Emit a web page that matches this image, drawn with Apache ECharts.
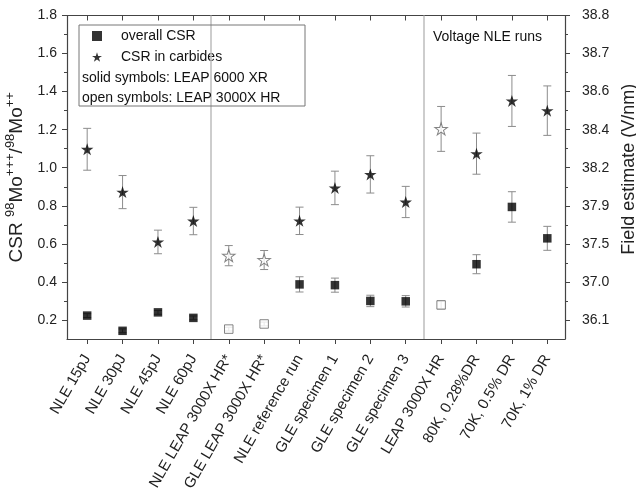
<!DOCTYPE html>
<html><head><meta charset="utf-8">
<script src="https://cdn.jsdelivr.net/npm/echarts@6/dist/echarts.min.js"></script>
<style>html,body{margin:0;padding:0;background:#fff}#c{width:636px;height:499px}</style>
</head><body><div id="c"></div>
<script>
const categories = ['NLE 15pJ','NLE 30pJ','NLE 45pJ','NLE 60pJ','NLE LEAP 3000X HR*','GLE LEAP 3000X HR*','NLE reference run','GLE specimen 1','GLE specimen 2','GLE specimen 3','LEAP 3000X HR','80K, 0.28%DR','70K, 0.5% DR','70K, 1% DR'];
const overallCSR = [0.223,0.143,0.240,0.211,0.152,0.179,0.387,0.383,0.300,0.298,0.279,0.493,0.794,0.629];
const overallErr = [0.01,0.01,0.01,0.01,0.01,0.01,0.040,0.037,0.030,0.030,0.020,0.050,0.080,0.063];
const carbideCSR = [1.097,0.872,0.610,0.720,0.538,0.515,0.721,0.894,0.965,0.820,1.204,1.074,1.351,1.300];
const carbideErr = [0.110,0.087,0.062,0.072,0.053,0.050,0.072,0.088,0.098,0.082,0.118,0.108,0.134,0.130];
const openSymbol = [false,false,false,false,true,true,false,false,false,false,true,false,false,false];
const leftTicks = [0.2,0.4,0.6,0.8,1.0,1.2,1.4,1.6,1.8];
const minorTicks = [0.3,0.5,0.7,0.9,1.1,1.3,1.5,1.7];
const rightTickLabels = ['36.1','37.0','37.5','37.9','38.2','38.4','38.6','38.7','38.8'];
const groupSeparators = [3.5, 9.5];

const FONT = 'Liberation Sans, Arial, sans-serif';
const STAR = 'path://M0,-1L0.2245,-0.309L0.951,-0.309L0.363,0.118L0.588,0.809L0,0.382L-0.588,0.809L-0.363,0.118L-0.951,-0.309L-0.2245,-0.309Z';
const idx = categories.map((_, i) => i);
const pick = (vals, open) => idx.filter(i => openSymbol[i] === open).map(i => [i, vals[i]]);
const errData = (vals, errs) => idx.map(i => [i, vals[i] - errs[i], vals[i] + errs[i]]);

const axisLineStyle = {color: '#444', width: 1.2};
const xBase = {type: 'value', min: -0.57, max: 13.5, splitLine: {show: false}, axisLine: {onZero: false, lineStyle: axisLineStyle}};
const yBase = {type: 'value', min: 0.1, max: 1.8, splitLine: {show: false}};

function errRender(params, api) {
  const x = api.value(0), lo = api.value(1), hi = api.value(2);
  const a = api.coord([x, lo]), b = api.coord([x, hi]);
  const hw = 4, st = {stroke: '#8c8c8c', lineWidth: 1};
  return {type: 'group', children: [
    {type: 'line', shape: {x1: a[0], y1: a[1], x2: b[0], y2: b[1]}, style: st},
    {type: 'line', shape: {x1: a[0] - hw, y1: a[1], x2: a[0] + hw, y2: a[1]}, style: st},
    {type: 'line', shape: {x1: b[0] - hw, y1: b[1], x2: b[0] + hw, y2: b[1]}, style: st}
  ]};
}

const chart = echarts.init(document.getElementById('c'), null, {renderer: 'canvas'});
chart.setOption({
  animation: false,
  backgroundColor: '#fff',
  textStyle: {fontFamily: FONT},
  grid: {left: 67, right: 71, top: 15.5, bottom: 160, containLabel: false, outerBoundsMode: 'none'},
  legend: {
    left: 92, top: 28, padding: 0, orient: 'vertical', itemWidth: 10, itemHeight: 10, itemGap: 5,
    data: ['overall CSR', 'CSR in carbides'],
    textStyle: {fontSize: 14, color: '#111', lineHeight: 16, fontFamily: FONT, padding: [0, 0, 0, 14]},
    selectedMode: false
  },
  xAxis: [
    Object.assign({}, xBase, {
      position: 'bottom',
      axisTick: {customValues: idx, length: 5, lineStyle: {color: '#444'}},
      axisLabel: {customValues: idx, rotate: 60, fontSize: 15, color: '#222', margin: 17,
        formatter: v => categories[Math.round(v)]}
    }),
    Object.assign({}, xBase, {
      position: 'top',
      axisTick: {customValues: idx, inside: true, length: 5, lineStyle: {color: '#444'}},
      axisLabel: {show: false}
    })
  ],
  yAxis: [
    Object.assign({}, yBase, {
      position: 'left',
      axisLine: {show: true, onZero: false, lineStyle: axisLineStyle},
      axisTick: {customValues: leftTicks, length: 5, lineStyle: {color: '#444'}},
      axisLabel: {customValues: leftTicks, fontSize: 14, color: '#222', margin: 10, formatter: v => v.toFixed(1)},
      name: '{a|CSR }{s|98}{a|Mo}{s|+++}{a|/}{s|98}{a|Mo}{s|++}',
      nameLocation: 'middle', nameGap: 30,
      nameTextStyle: {rich: {
        a: {fontSize: 19, lineHeight: 23, verticalAlign: 'bottom', color: '#222', fontFamily: FONT},
        s: {fontSize: 13, lineHeight: 14, verticalAlign: 'top', color: '#222', fontFamily: FONT}
      }}
    }),
    Object.assign({}, yBase, {
      position: 'left',
      axisLine: {show: false, onZero: false},
      axisTick: {customValues: minorTicks, length: 3, lineStyle: {color: '#444'}},
      axisLabel: {show: false}
    }),
    Object.assign({}, yBase, {
      position: 'right',
      axisLine: {show: true, onZero: false, lineStyle: axisLineStyle},
      axisTick: {customValues: leftTicks, length: 5, lineStyle: {color: '#444'}},
      axisLabel: {customValues: leftTicks, fontSize: 14, color: '#222', margin: 17,
        formatter: v => { const k = leftTicks.findIndex(t => Math.abs(t - v) < 1e-6); return k >= 0 ? rightTickLabels[k] : ''; }},
      name: 'Field estimate (V/nm)', nameLocation: 'middle', nameGap: 53,
      nameTextStyle: {fontSize: 18, color: '#222', fontFamily: FONT, padding: [0, 0, 0, 16]}
    }),
    Object.assign({}, yBase, {
      position: 'right',
      axisLine: {show: false, onZero: false},
      axisTick: {customValues: minorTicks, length: 3, lineStyle: {color: '#444'}},
      axisLabel: {show: false}
    })
  ],
  graphic: [
    {type: 'rect', shape: {x: 79, y: 25, width: 226, height: 81}, style: {fill: 'none', stroke: '#777', lineWidth: 1}, z: 50},
    {type: 'text', x: 82, y: 78, style: {text: 'solid symbols: LEAP 6000 XR', fontSize: 14, fill: '#111', fontFamily: FONT, verticalAlign: 'middle'}, z: 50},
    {type: 'text', x: 82, y: 98, style: {text: 'open symbols: LEAP 3000X HR', fontSize: 14, fill: '#111', fontFamily: FONT, verticalAlign: 'middle'}, z: 50},
    {type: 'text', x: 433, y: 37, style: {text: 'Voltage NLE runs', fontSize: 14, fill: '#111', fontFamily: FONT, verticalAlign: 'middle'}, z: 50}
  ],
  series: [
    {type: 'custom', name: 'err overall', renderItem: errRender, data: errData(overallCSR, overallErr),
     encode: {x: 0, y: [1, 2]}, z: 1, silent: true,
     markLine: {silent: true, symbol: 'none', label: {show: false},
       lineStyle: {color: '#bdbdbd', width: 1.5, type: 'solid'},
       data: groupSeparators.map(v => ({xAxis: v}))}},
    {type: 'custom', name: 'err carbide', renderItem: errRender, data: errData(carbideCSR, carbideErr),
     encode: {x: 0, y: [1, 2]}, z: 1, silent: true},
    {type: 'scatter', name: 'overall CSR', data: pick(overallCSR, false), symbol: 'rect', symbolSize: 8.5,
     itemStyle: {color: '#000'}, z: 3},
    {type: 'scatter', name: 'overall CSR (open)', data: pick(overallCSR, true), symbol: 'rect', symbolSize: 8.5,
     itemStyle: {color: '#fff', borderColor: '#666', borderWidth: 1}, z: 3},
    {type: 'scatter', name: 'CSR in carbides', data: pick(carbideCSR, false), symbol: STAR, symbolSize: [12.5, 12],
     itemStyle: {color: '#000'}, z: 3},
    {type: 'scatter', name: 'CSR in carbides (open)', data: pick(carbideCSR, true), symbol: STAR, symbolSize: [12.5, 12],
     itemStyle: {color: '#fff', borderColor: '#666', borderWidth: 1}, z: 3}
  ]
});
</script></body></html>
